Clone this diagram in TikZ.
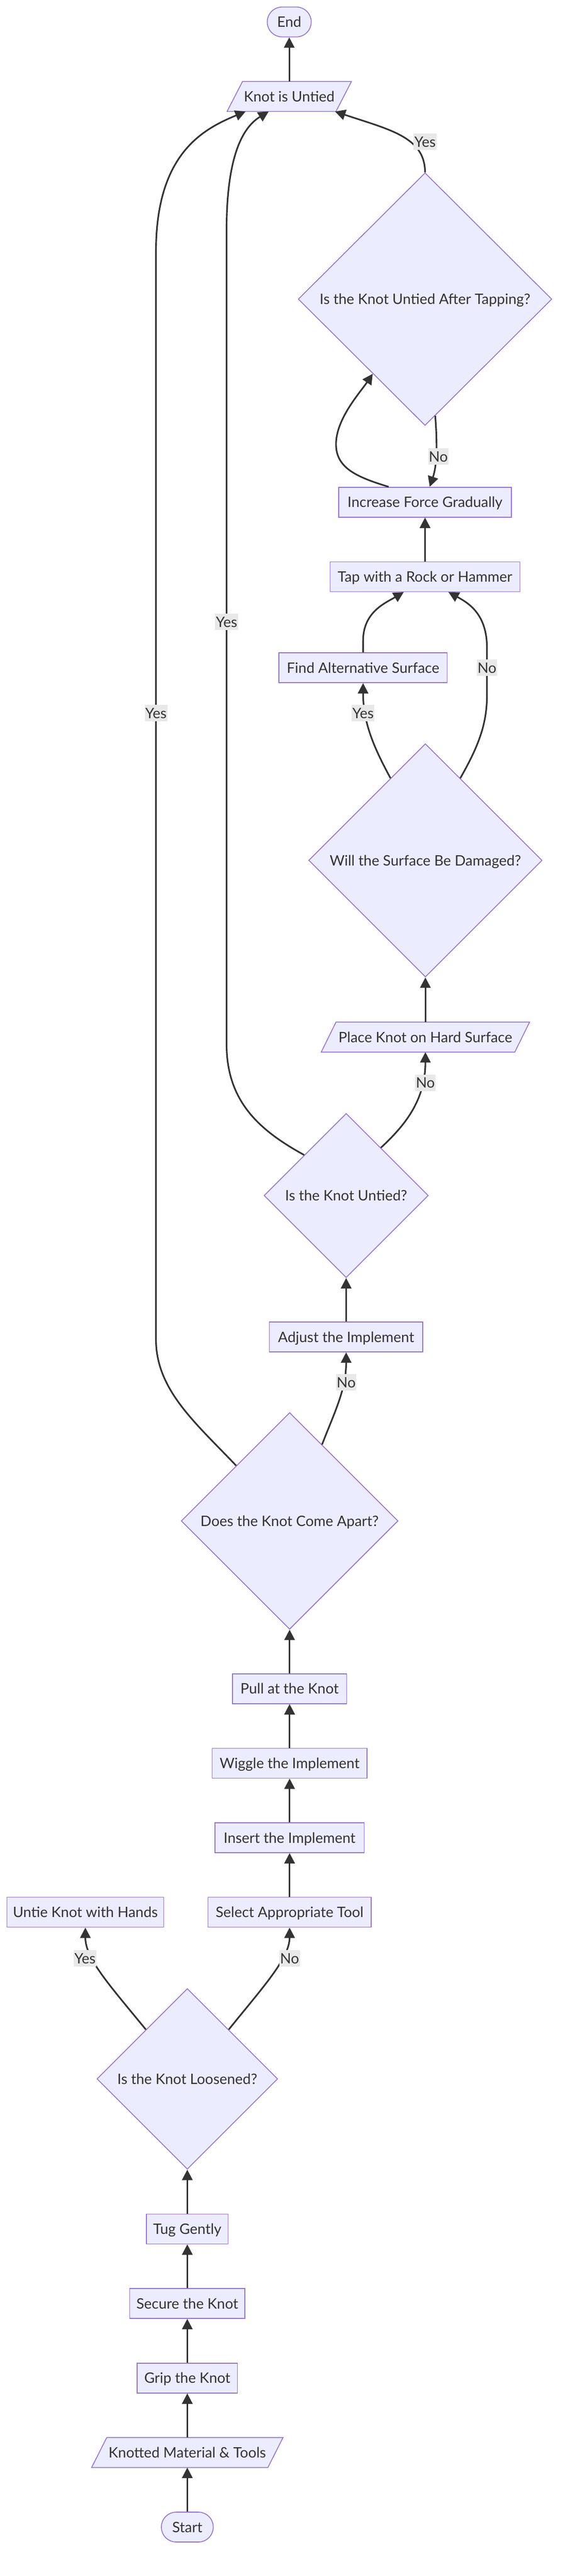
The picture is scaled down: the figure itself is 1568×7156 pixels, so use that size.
\documentclass[tikz,border=0pt]{standalone}
\usepackage{fontspec}
\setmainfont{Lato}
\usetikzlibrary{shapes.geometric,arrows.meta,calc}
\definecolor{nfill}{HTML}{ECECFF}
\definecolor{nline}{HTML}{9370DB}
\definecolor{ink}{HTML}{333333}
\definecolor{lblbg}{HTML}{E8E8E8}
\pgfdeclarelayer{background}
\pgfsetlayers{background,main}
\newcommand{\paraframe}[2]{%
  \begin{pgfonlayer}{background}
  \filldraw[draw=nline, fill=nfill, line width=2.3pt]
    ([xshift=-#2/2]#1.south west) -- ([xshift=-#2/2]#1.south east) --
    ([xshift=#2/2]#1.north east) -- ([xshift=#2/2]#1.north west) -- cycle;
  \end{pgfonlayer}}
\begin{document}
\begin{tikzpicture}[x=1pt,y=-1pt,
  font=\fontsize{40}{48}\selectfont, text=ink,
  every node/.style={text height=29pt, text depth=0pt},
  box/.style={rectangle, draw=nline, fill=nfill, line width=2.3pt, inner sep=0pt, minimum height=83pt},
  dia/.style={diamond, aspect=1, draw=nline, fill=nfill, line width=2.3pt, inner sep=0pt},
  term/.style={rectangle, rounded corners=41pt, draw=nline, fill=nfill, line width=2.3pt, inner sep=0pt, minimum height=83pt},
  paratxt/.style={rectangle, inner sep=0pt, minimum height=83pt},
  edge/.style={draw=ink, line width=4.5pt, -{Triangle[length=29pt,width=29pt]}},
  lbl/.style={fill=lblbg, inner xsep=2pt, inner ysep=8.5pt, text=ink}]
\useasboundingbox (0,0) rectangle (1568,7156);

% ---------- nodes ----------
\node[term, minimum width=122pt] (end) at (803,61) {End};
\node[paratxt, minimum width=302pt] (kiu) at (803,268) {Knot is Untied};
\paraframe{kiu}{43}
\node[dia, minimum width=704pt, minimum height=702pt] (tapq) at (1180,831) {Is the Knot Untied After Tapping?};
\node[box, minimum width=479pt] (inc) at (1180,1395) {Increase Force Gradually};
\node[box, minimum width=527pt] (tap) at (1180,1602) {Tap with a Rock or Hammer};
\node[box, minimum width=467pt] (alt) at (1008,1855) {Find Alternative Surface};
\node[dia, minimum width=648pt, minimum height=648pt] (dmg) at (1181,2390) {Will the Surface Be Damaged?};
\node[paratxt, minimum width=537pt] (place) at (1181,2881) {Place Knot on Hard Surface};
\paraframe{place}{41}
\node[dia, minimum width=456pt, minimum height=456pt] (untied) at (961,3321) {Is the Knot Untied?};
\node[box, minimum width=426pt] (adj) at (961,3714) {Adjust the Implement};
\node[dia, minimum width=602pt, minimum height=602pt] (apart) at (804,4225) {Does the Knot Come Apart?};
\node[box, minimum width=317pt] (pull) at (804,4691) {Pull at the Knot};
\node[box, minimum width=430pt] (wiggle) at (804,4898) {Wiggle the Implement};
\node[box, minimum width=414pt] (insert) at (804,5105) {Insert the Implement};
\node[box, minimum width=453pt] (select) at (804,5312) {Select Appropriate Tool};
\node[box, minimum width=435pt] (hands) at (237,5312) {Untie Knot with Hands};
\node[dia, minimum width=502pt, minimum height=502pt] (loose) at (520,5775) {Is the Knot Loosened?};
\node[box, minimum width=227pt] (tug) at (520,6192) {Tug Gently};
\node[box, minimum width=320pt] (secure) at (520,6399) {Secure the Knot};
\node[box, minimum width=278pt] (grip) at (520,6606) {Grip the Knot};
\node[paratxt, minimum width=489pt] (mat) at (520,6813) {Knotted Material \& Tools};
\paraframe{mat}{42}
\node[term, minimum width=144pt] (start) at (520,7020) {Start};

% ---------- straight connectors ----------
\draw[edge] (start.north) -- (mat.south);
\draw[edge] (mat.north) -- (grip.south);
\draw[edge] (grip.north) -- (secure.south);
\draw[edge] (secure.north) -- (tug.south);
\draw[edge] (tug.north) -- (loose.south);
\draw[edge] (select.north) -- (insert.south);
\draw[edge] (insert.north) -- (wiggle.south);
\draw[edge] (wiggle.north) -- (pull.south);
\draw[edge] (pull.north) -- (apart.south);
\draw[edge] (adj.north) -- (untied.south);
\draw[edge] (place.north) -- (dmg.south);
\draw[edge] (tap.north) -- (inc.south);
\draw[edge] (kiu.north) -- (end.south);

% ---------- curved connectors ----------
\draw[edge] (loose.130) .. controls (300,5510) and (237,5440) .. (hands.south);
\draw[edge] (loose.50) .. controls (730,5520) and (804,5440) .. (select.south);
\draw[edge] (apart.67) .. controls (930,3920) and (961,3860) .. (adj.south);
\draw[edge] (apart.134) .. controls (540,3950) and (433,3860) .. (433,3720)
  -- (433,700) .. controls (433,430) and (560,360) .. ([xshift=-121pt]kiu.south);
\draw[edge] (untied.136) .. controls (720,3140) and (629,3060) .. (629,2900)
  -- (629,640) .. controls (629,420) and (680,350) .. ([xshift=-57pt]kiu.south);
\draw[edge] (untied.54) .. controls (1120,3130) and (1181,3060) .. (place.south);
\draw[edge] (dmg.113) .. controls (1040,2080) and (1008,2010) .. (alt.south);
\draw[edge] (dmg.67) .. controls (1330,2070) and (1352,2010) .. (1352,1930)
  -- (1352,1800) .. controls (1352,1705) and (1300,1675) .. ([xshift=65pt]tap.south);
\draw[edge] (alt.north) -- (1008,1780) .. controls (1008,1700) and (1070,1675) .. ([xshift=-59pt]tap.south);
\draw[edge] ([xshift=-101pt]inc.north) .. controls (990,1325) and (930,1300) .. (933,1229)
  .. controls (936,1160) and (1000,1090) .. (tapq.235);
\draw[edge] (tapq.-85) .. controls (1214,1230) and (1214,1290) .. ([xshift=13pt]inc.north);
\draw[edge] (tapq.north) .. controls (1180,380) and (1080,360) .. ([xshift=127pt]kiu.south);

% ---------- edge labels ----------
\node[lbl] (l1) at (236,5440) {Yes};
\node[lbl] (l2) at (804,5440) {No};
\node[lbl] (l3) at (961,3840) {No};
\node[lbl] (l4) at (433,1981) {Yes};
\node[lbl] (l5) at (629,1728) {Yes};
\node[lbl] (l6) at (1181,3008) {No};
\node[lbl] (l7) at (1008,1981) {Yes};
\node[lbl] (l8) at (1352,1855) {No};
\node[lbl] (l9) at (1217,1268) {No};
\node[lbl] (l10) at (1180,394) {Yes};
\end{tikzpicture}
\end{document}
